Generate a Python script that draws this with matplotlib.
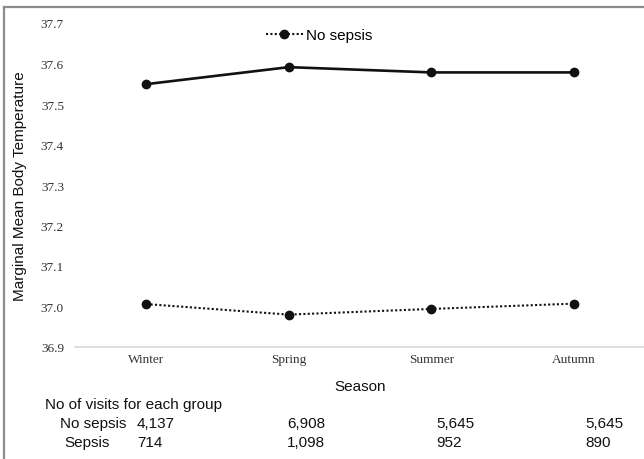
import matplotlib
matplotlib.use('Agg')
import matplotlib.pyplot as plt
from matplotlib.lines import Line2D

# 数据
seasons = ['Winter', 'Spring', 'Summer', 'Autumn']
sepsis = [37.549, 37.591, 37.578, 37.578]
no_sepsis = [37.006, 36.980, 36.994, 37.007]
visits_no_sepsis = ['4,137', '6,908', '5,645', '5,645']
visits_sepsis = ['714', '1,098', '952', '890']
yticks = [36.9, 37.0, 37.1, 37.2, 37.3, 37.4, 37.5, 37.6, 37.7]

W, H = 644, 460
fig = plt.figure(figsize=(W / 100, H / 100), dpi=100)
ax = fig.add_axes([75 / W, 1 - 348 / H, 570 / W, 324 / H])

x = list(range(len(seasons)))
ax.plot(x, sepsis, color='#111111', lw=1.9, marker='o', markersize=6, label='_nolegend_')
ax.plot(x, no_sepsis, color='#111111', lw=1.5, linestyle=(0, (1, 1.1)),
        marker='o', markersize=6, label='No sepsis')

ax.set_xlim(-0.5, 3.5)
ax.set_ylim(36.9, 37.7)
ax.set_xticks(x)
ax.set_xticklabels(seasons, family='Liberation Serif', fontsize=9.5, color='#333333')
ax.set_yticks(yticks)
ax.set_yticklabels(['%.1f' % v for v in yticks], family='Liberation Serif', fontsize=9.5, color='#333333')
ax.tick_params(axis='both', length=0)
ax.tick_params(axis='x', pad=4)
ax.tick_params(axis='y', pad=8)
for s in ['left', 'right', 'top']:
    ax.spines[s].set_visible(False)
ax.spines['bottom'].set_color('#d9d9d9')
ax.spines['bottom'].set_linewidth(1.2)

leg = ax.legend(loc='center left', bbox_to_anchor=(266 / W, 1 - 36 / H),
                bbox_transform=fig.transFigure, frameon=False, borderpad=0,
                borderaxespad=0, handlelength=2.4, handletextpad=0.2,
                prop={'family': 'Liberation Sans', 'size': 11})

sans = dict(family='Liberation Sans', fontsize=11, color='#111111')
fig.text(20 / W, 1 - 186 / H, 'Marginal Mean Body Temperature', rotation=90,
         ha='center', va='center', **sans)
fig.text(360 / W, 1 - 387 / H, 'Season', ha='center', va='center', **sans)

# 表格
fig.text(45 / W, 1 - 405 / H, 'No of visits for each group', ha='left', va='center', **sans)
fig.text(60 / W, 1 - 424 / H, 'No sepsis', ha='left', va='center', **sans)
fig.text(64 / W, 1 - 443 / H, 'Sepsis', ha='left', va='center', **sans)
col_x = [137, 287, 436, 585]
for cx, a, b in zip(col_x, visits_no_sepsis, visits_sepsis):
    fig.text(cx / W, 1 - 424 / H, a, ha='left', va='center', **sans)
    fig.text(cx / W, 1 - 443 / H, b, ha='left', va='center', **sans)

# 外框
fig.add_artist(Line2D([4 / W, 4 / W], [0, 1 - 8 / H], transform=fig.transFigure,
                      color='#8c8c8c', lw=1.6))
fig.add_artist(Line2D([4 / W, 1], [1 - 8 / H, 1 - 8 / H], transform=fig.transFigure,
                      color='#8c8c8c', lw=1.6))

plt.savefig('out.png', dpi=100)
